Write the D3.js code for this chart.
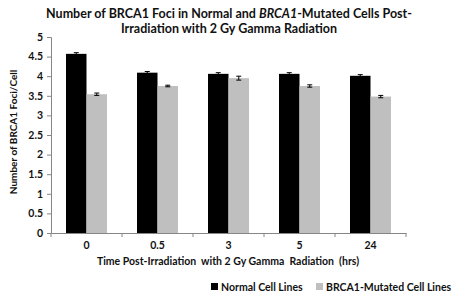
<!DOCTYPE html>
<html><head><meta charset="utf-8">
<script src="https://cdn.jsdelivr.net/npm/d3@7"></script>
<style>
body{margin:0;background:#fff;}
text{font-family:Lato,"Open Sans",sans-serif;font-weight:bold;fill:#111;}
</style></head>
<body><svg id="c" width="456" height="294"></svg>
<script>
const categories = ["0","0.5","3","5","24"];
const seriesNames = ["Normal Cell Lines","BRCA1-Mutated Cell Lines"];
const normalValues = [4.57,4.09,4.06,4.06,4.01];
const mutatedValues = [3.54,3.75,3.95,3.75,3.48];
const normalErrors = [0.03,0.03,0.03,0.03,0.03];
const mutatedErrors = [0.03,0.02,0.05,0.03,0.03];
const yTicks = [0,0.5,1,1.5,2,2.5,3,3.5,4,4.5,5];
const colors = ["#000000","#bfbfbf"];

const svg = d3.select("#c");
const m = {l:51, r:406, t:37, b:233};
const x = d3.scaleBand().domain(categories).range([m.l, m.r]).paddingInner(0).paddingOuter(0);
const x1 = d3.scaleBand().domain([0,1]).range([0, 41]);
const y = d3.scaleLinear().domain([0,5]).range([m.b, m.t]);

const series = [normalValues, mutatedValues];
const errs = [normalErrors, mutatedErrors];
series.forEach((vals, si) => {
  const off = (x.bandwidth() - 41) / 2;
  svg.append("g").selectAll("rect").data(vals).join("rect")
    .attr("x", (d,i) => x(categories[i]) + off + x1(si))
    .attr("y", d => y(d))
    .attr("width", x1.bandwidth())
    .attr("height", d => y(0) - y(d))
    .attr("fill", colors[si]);
  const eg = svg.append("g").attr("stroke","#000").attr("stroke-width",1);
  vals.forEach((d,i) => {
    const cx = x(categories[i]) + off + x1(si) + x1.bandwidth()/2;
    const e = errs[si][i];
    eg.append("line").attr("x1",cx).attr("x2",cx).attr("y1",y(d+e)).attr("y2",y(d-e));
    eg.append("line").attr("x1",cx-2.5).attr("x2",cx+2.5).attr("y1",y(d+e)).attr("y2",y(d+e));
    eg.append("line").attr("x1",cx-2.5).attr("x2",cx+2.5).attr("y1",y(d-e)).attr("y2",y(d-e));
  });
});

const ya = svg.append("g").attr("transform",`translate(${m.l},0)`)
  .call(d3.axisLeft(y).tickValues(yTicks).tickSize(4).tickPadding(4).tickFormat(d => d3.format("")(d)));
ya.select(".domain").attr("stroke","#868686");
ya.selectAll(".tick line").attr("stroke","#868686");
ya.selectAll("text").style("font-size","10.5px").attr("fill","#111");

const xa = svg.append("g").attr("transform",`translate(0,${m.b})`)
  .call(d3.axisBottom(x).tickSize(0).tickPadding(9));
xa.select(".domain").attr("stroke","#868686");
xa.selectAll("text").style("font-size","10.5px").attr("fill","#111");
const bounds = [...categories.map(c => x(c)), m.r];
xa.selectAll(".btick").data(bounds).join("line").attr("class","btick")
  .attr("x1",d=>d).attr("x2",d=>d).attr("y1",0).attr("y2",4).attr("stroke","#868686");

const t = svg.append("text").attr("text-anchor","middle").style("font-size","12.5px");
const l1 = t.append("tspan").attr("x",229).attr("y",18);
l1.append("tspan").text("Number of BRCA1 Foci in Normal and ");
l1.append("tspan").style("font-style","italic").text("BRCA1");
l1.append("tspan").text("-Mutated Cells Post-");
t.append("tspan").attr("x",229).attr("y",33).text("Irradiation with 2 Gy Gamma Radiation");

svg.append("text").attr("transform","translate(17,132) rotate(-90)").attr("text-anchor","middle")
  .style("font-size","10px").text("Number of BRCA1 Foci/Cell");

svg.append("text").attr("x",228).attr("y",265).attr("text-anchor","middle")
  .style("font-size","10.5px").style("white-space","pre")
  .text("Time Post-Irradiation  with 2 Gy Gamma  Radiation  (hrs)");

const lg = svg.append("g");
const lx = [211, 316];
seriesNames.forEach((n,i) => {
  lg.append("rect").attr("x",lx[i]).attr("y",283).attr("width",7).attr("height",7).attr("fill",colors[i]);
  lg.append("text").attr("x",lx[i]+10).attr("y",290.5).style("font-size","10.5px").text(n);
});
</script></body></html>
